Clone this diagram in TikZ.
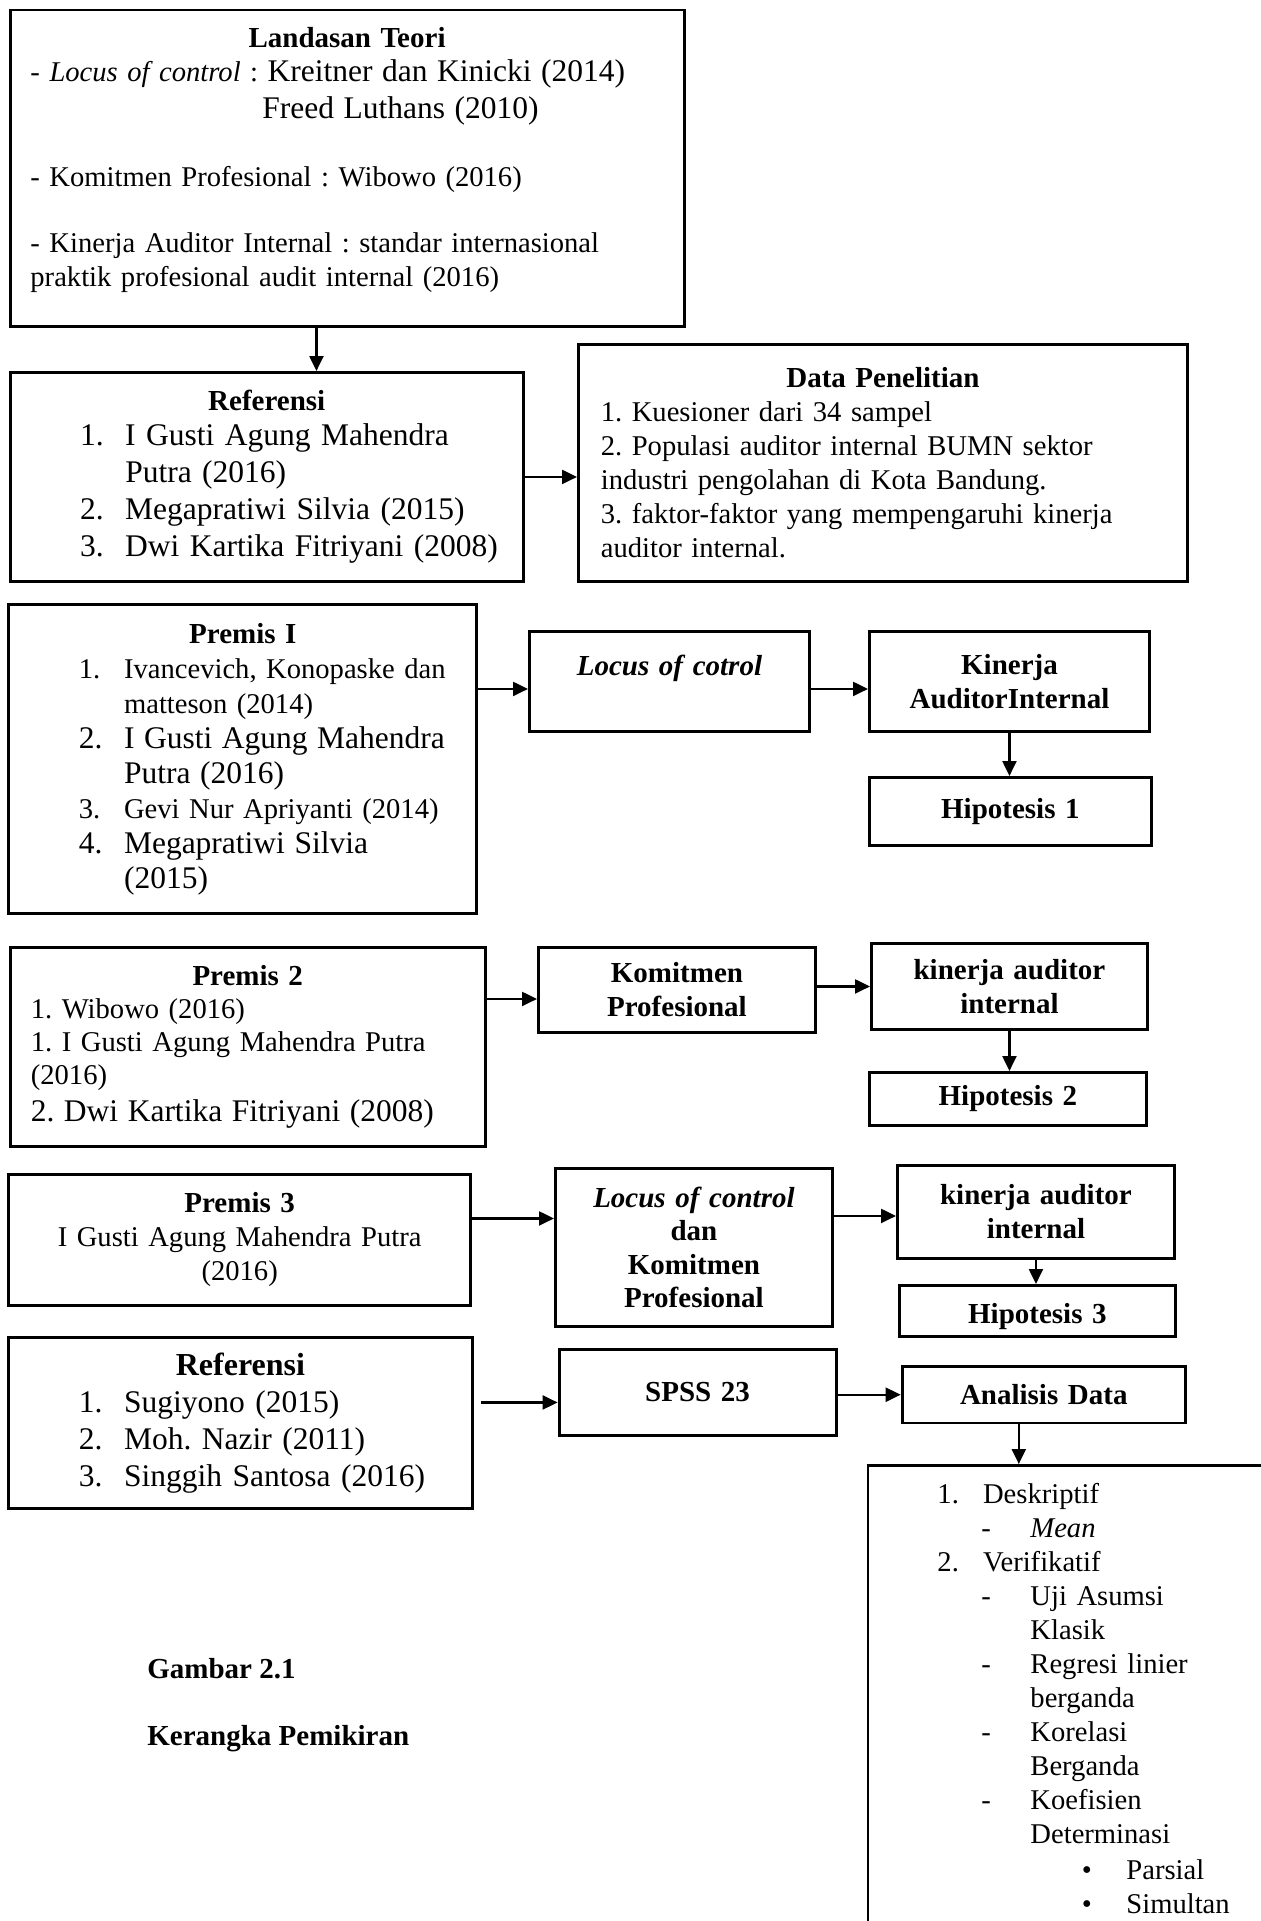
\documentclass[tikz,border=0pt]{standalone}
\usepackage{fontspec}
\setmainfont{Liberation Serif}
\usetikzlibrary{shapes,arrows.meta}
\usetikzlibrary{calc}
\frenchspacing

\newcommand{\numitem}[2]{\hspace*{35pt}\makebox[22.6pt][l]{#1}#2}

\begin{document}
\begin{tikzpicture}
[x=0.5pt, y=-0.5pt,
block/.style ={rectangle, draw=black, line width=1.45pt, anchor=north west,
inner sep=0pt, font=\fontsize{14.3}{17}\selectfont},
head/.style ={block, align=center, font=\bfseries\fontsize{14.5}{17}\selectfont},
link/.style ={-{Triangle[length=7.5pt,width=7pt]}, line width=1.1pt}]

\useasboundingbox (0,0) rectangle (1261,1921);
\clip (0,0) rectangle (1261,1921);

% row 1
\node (teori) [block, text width=337pt, minimum height=158pt, align=left] at (8.6,8.6)
{\makebox[\linewidth]{\fontsize{14.5}{17}\selectfont\bfseries Landasan Teori}\\
\hspace*{10.2pt}- \textit{Locus of control} : {\fontsize{15.75}{17}\selectfont Kreitner dan Kinicki (2014)}\\[1.5pt]
\hspace*{126.2pt}{\fontsize{15.75}{17}\selectfont Freed Luthans (2010)}\\[17pt]
\hspace*{10.2pt}- Komitmen Profesional : Wibowo (2016)\\[16pt]
\hspace*{10.2pt}- Kinerja Auditor Internal : standar internasional\\
\hspace*{10.2pt}praktik profesional audit internal (2016)\\[-6pt]\mbox{}};

% row 2
\node (ref) [block, text width=256.7pt, minimum height=104.5pt, align=left,
font=\fontsize{15.75}{18.5}\selectfont] at (8.6,371)
{\makebox[\linewidth]{\fontsize{14.5}{17}\selectfont\bfseries Referensi}\\[-0.9pt]
\numitem{1.}{I Gusti Agung Mahendra}\\
\hspace*{57.6pt}Putra (2016)\\
\numitem{2.}{Megapratiwi Silvia (2015)}\\
\numitem{3.}{Dwi Kartika Fitriyani (2008)}};
\node (data) [block, text width=304.5pt, minimum height=118.5pt, align=left] at (577,343)
{\makebox[\linewidth]{\fontsize{14.5}{17}\selectfont\bfseries Data Penelitian}\\
\hspace*{11.2pt}1. Kuesioner dari 34 sampel\\
\hspace*{11.2pt}2. Populasi auditor internal BUMN sektor\\
\hspace*{11.2pt}industri pengolahan di Kota Bandung.\\
\hspace*{11.2pt}3. faktor-faktor yang mempengaruhi kinerja\\
\hspace*{11.2pt}auditor internal.};

% row 3
\node (premis1) [block, text width=234pt, minimum height=154.5pt, align=left,
font=\fontsize{14.3}{17.5}\selectfont] at (7.4,603)
{\makebox[\linewidth]{\fontsize{14.5}{17}\selectfont\bfseries Premis I}\\
\numitem{1.}{Ivancevich, Konopaske dan}\\
\hspace*{57.6pt}matteson (2014)\\
{\fontsize{15.75}{17.5}\selectfont\numitem{2.}{I Gusti Agung Mahendra}}\\
\hspace*{57.6pt}{\fontsize{15.75}{17.5}\selectfont Putra (2016)}\\
\numitem{3.}{Gevi Nur Apriyanti (2014)}\\
{\fontsize{15.75}{17.5}\selectfont\numitem{4.}{Megapratiwi Silvia}}\\
\hspace*{57.6pt}{\fontsize{15.75}{17.5}\selectfont (2015)}};
\node (loc1) [head, text width=140pt, minimum height=50pt] at (528,630)
{\textit{Locus of cotrol}\\[-0.5pt]\mbox{}};
\node (kin1) [head, text width=140pt, minimum height=50pt] at (868,630) {Kinerja\\AuditorInternal};
\node (hip1) [head, text width=141pt, minimum height=34pt] at (868,776) {Hipotesis 1};

% row 4
\node (premis2) [block, text width=237.7pt, minimum height=99.5pt, align=left,
font=\fontsize{14.3}{16.5}\selectfont] at (8.6,946)
{\makebox[\linewidth]{\fontsize{14.5}{17}\selectfont\bfseries Premis 2}\\
\hspace*{10.4pt}1. Wibowo (2016)\\
\hspace*{10.4pt}1. I Gusti Agung Mahendra Putra\\
\hspace*{10.4pt}(2016)\\[1.8pt]
\hspace*{10.4pt}{\fontsize{15.75}{16.5}\selectfont 2. Dwi Kartika Fitriyani (2008)}};
\node (kom) [head, text width=138.5pt, minimum height=42.5pt] at (537,946) {Komitmen\\Profesional};
\node (kin2) [head, text width=138pt, minimum height=43pt] at (870,942) {kinerja auditor\\internal};
\node (hip2) [head, text width=138.5pt, minimum height=26.5pt] at (868,1071) {Hipotesis 2};

% row 5
\node (premis3) [block, text width=230.8pt, minimum height=65.5pt, align=center] at (7.4,1173)
{{\fontsize{14.5}{17}\selectfont\bfseries Premis 3}\\I Gusti Agung Mahendra Putra\\(2016)};
\node (loc3) [head, text width=138.5pt, minimum height=79pt,
font=\bfseries\fontsize{14.5}{16.75}\selectfont] at (554,1167)
{\textit{Locus of control}\\dan\\Komitmen\\Profesional};
\node (kin3) [head, text width=138.5pt, minimum height=46.5pt] at (896,1164) {kinerja auditor\\internal};
\node (hip3) [head, text width=138pt, minimum height=25.5pt] at (898,1284)
{\raisebox{-3pt}[\height][\depth]{Hipotesis 3}};

% row 6
\node (ref2) [block, text width=231.6pt, minimum height=85.5pt, align=left,
font=\fontsize{15.75}{18.5}\selectfont] at (7.4,1336)
{\makebox[\linewidth]{\fontsize{16}{18.5}\selectfont\bfseries Referensi}\\
\numitem{1.}{Sugiyono (2015)}\\
\numitem{2.}{Moh. Nazir (2011)}\\
\numitem{3.}{Singgih Santosa (2016)}};
\node (spss) [head, text width=138.5pt, minimum height=43pt] at (557.6,1348) {SPSS 23};
\node (analisis) [head, text width=141.65pt, minimum height=28.25pt] at (900.7,1365) {Analisis Data};

% row 7
\node (hasil) [block, text width=220pt, inner ysep=9pt, align=left] at (866.5,1464)
{\hspace*{34.75pt}\makebox[22.8pt][l]{1.}Deskriptif\\
\hspace*{56.75pt}\makebox[24.5pt][l]{-}\textit{Mean}\\
\hspace*{34.75pt}\makebox[22.8pt][l]{2.}Verifikatif\\
\hspace*{56.75pt}\makebox[24.5pt][l]{-}Uji Asumsi\\
\hspace*{81.25pt}Klasik\\
\hspace*{56.75pt}\makebox[24.5pt][l]{-}Regresi linier\\
\hspace*{81.25pt}berganda\\
\hspace*{56.75pt}\makebox[24.5pt][l]{-}Korelasi\\
\hspace*{81.25pt}Berganda\\
\hspace*{56.75pt}\makebox[24.5pt][l]{-}Koefisien\\
\hspace*{81.25pt}Determinasi\\[1pt]
\hspace*{107pt}\makebox[22.25pt][l]{\textbullet}Parsial\\
\hspace*{107pt}\makebox[22.25pt][l]{\textbullet}Simultan\\[8pt]\mbox{}};
\node (gambar) [anchor=west, inner sep=0pt, font=\bfseries\fontsize{14.5}{17}\selectfont] at (147,1669) {Gambar 2.1};
\node (judul) [anchor=west, inner sep=0pt, font=\bfseries\fontsize{14.5}{17}\selectfont] at (147,1739) {Kerangka Pemikiran};

\draw[link] ($(teori.south)+(-15.3pt,0)$) -- ($(teori.south |- ref.north)+(-15.3pt,0)$);
\draw[link] (ref.east) -- (ref.east -| data.west);
\draw[link] ($(loc1.west -| premis1.east)+(0,-3.75pt)$) -- ($(loc1.west)+(0,-3.75pt)$);
\draw[link] ($(loc1.east)+(0,-3.75pt)$) -- ($(loc1.east -| kin1.west)+(0,-3.75pt)$);
\draw[link] (kin1.south) -- (kin1.south |- hip1.north);
\draw[link] ($(kom.west -| premis2.east)+(0,-4.5pt)$) -- ($(kom.west)+(0,-4.5pt)$);
\draw[link] (kin2.west -| kom.east) -- (kin2.west);
\draw[link] (kin2.south) -- (kin2.south |- hip2.north);
\draw[link] ($(loc3.west -| premis3.east)+(0,14.5pt)$) -- ($(loc3.west)+(0,14.5pt)$);
\draw[link] ($(kin3.west -| loc3.east)+(0,-2pt)$) -- ($(kin3.west)+(0,-2pt)$);
\draw[link] (kin3.south) -- (kin3.south |- hip3.north);
\draw[link] ($(spss.west -| ref2.east)+(3.7pt,-5pt)$) -- ($(spss.west)+(0,-5pt)$);
\draw[link] (analisis.west -| spss.east) -- (analisis.west);
\draw[link] ($(analisis.south)+(-12.5pt,0)$) -- ($(analisis.south |- hasil.north)+(-12.5pt,0)$);
\end{tikzpicture}
\end{document}
